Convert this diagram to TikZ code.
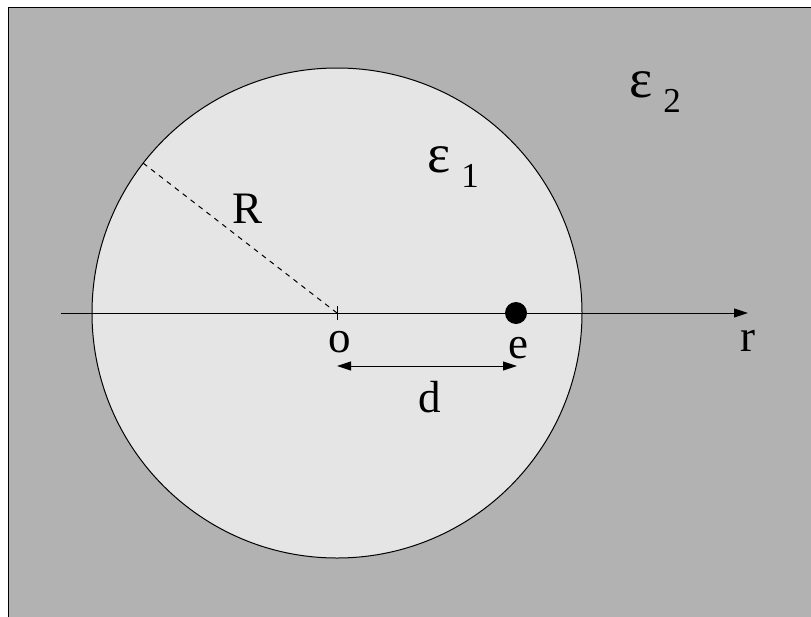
\documentclass[tikz,border=0pt]{standalone}
\usepackage{fontspec}
\setmainfont{Liberation Serif}
\usetikzlibrary{arrows.meta}
\definecolor{outergray}{gray}{0.70}
\definecolor{innergray}{gray}{0.90}
\tikzset{
  lbl/.style={inner sep=0pt, anchor=base, font=\fontsize{45}{50}\selectfont},
  epslbl/.style={inner sep=0pt, anchor=base west, font=\fontsize{55}{60}\selectfont},
  tip/.style={-{Triangle[length=14pt,width=9pt]}},
  thin line/.style={line width=1pt}
}
\newcommand{\epsub}[1]{\hspace{11pt}\raisebox{-15pt}{\fontsize{35}{40}\selectfont #1}}
\begin{document}
\begin{tikzpicture}[x=1pt,y=-1pt]
\useasboundingbox (0,0) rectangle (811,616);
\begin{scope}
\clip (0,0) rectangle (811,616);
\draw[thin line, fill=outergray] (8,7) rectangle (830,640);
\end{scope}
\coordinate (O) at (337,313);
\draw[thin line, fill=innergray] (O) circle[radius=245];
\coordinate (axL) at (61,313);
\coordinate (axR) at (748,313);
\coordinate (Rend) at (143,163);
\draw[thin line, dashed, dash pattern=on 5pt off 5pt] (O) -- (Rend);
\draw[thin line, tip] (axL) -- (axR);
\coordinate (tickT) at (337,306);
\coordinate (tickB) at (337,320);
\draw[thin line] (tickT) -- (tickB);
\node[circle, fill=black, minimum size=22pt, inner sep=0pt] (edot) at (516,313) {};
\coordinate (dL) at (337,366);
\coordinate (dR) at (517,366);
\draw[thin line, {Triangle[length=14pt,width=9pt]}-{Triangle[length=14pt,width=9pt]}] (dL) -- (dR);
\node[lbl] (Rlbl) at (248,223) {R};
\node[lbl] (olbl) at (340,352) {o};
\node[lbl] (elbl) at (518,358) {e};
\node[lbl] (dlbl) at (430,412) {d};
\node[lbl] (rlbl) at (748,351) {r};
\node[epslbl] (eps1) at (427,172) {ε\epsub{1}};
\node[epslbl] (eps2) at (629,97) {ε\epsub{2}};
\end{tikzpicture}
\end{document}
